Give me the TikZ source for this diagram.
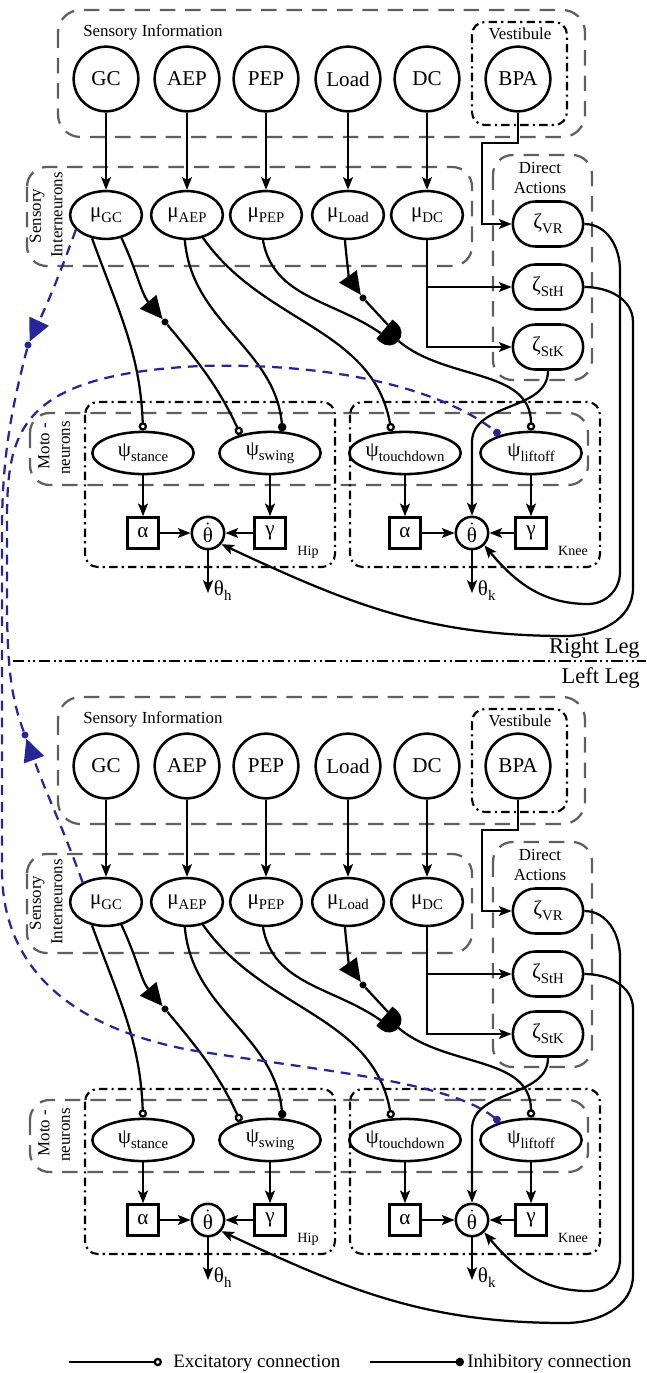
\documentclass[tikz,border=0pt]{standalone}
\usepackage{fontspec}
\setmainfont{Liberation Serif}
\usetikzlibrary{arrows.meta, positioning, shapes.geometric, shapes.misc}

\definecolor{linkblue}{RGB}{38,38,150}
\definecolor{boxgray}{RGB}{95,95,95}

\newcommand{\lsub}[1]{\raisebox{-0.5ex}{\fontsize{10.5}{11}\selectfont #1}}
\newcommand{\thetadot}{$\dot{\hbox{θ}}$}

\begin{document}
\begin{tikzpicture}[
  x=0.025cm, y=-0.025cm,
  >=Stealth,
  sense/.style={draw, circle, line width=1.8pt, minimum size=46pt,
    inner sep=0pt, font=\fontsize{15}{17}\selectfont},
  inter/.style={draw, ellipse, line width=1.8pt, minimum width=51pt,
    minimum height=34pt, inner sep=0pt, font=\fontsize{15}{17}\selectfont},
  direct/.style={draw, rounded rectangle, line width=1.8pt, minimum width=50pt,
    minimum height=32pt, inner sep=0pt, font=\fontsize{15}{17}\selectfont},
  moto/.style={draw, ellipse, line width=1.8pt, minimum width=72pt,
    minimum height=30pt, inner sep=0pt, font=\fontsize{15}{17}\selectfont},
  gain/.style={draw, rectangle, line width=1.8pt, minimum size=22pt,
    inner sep=0pt, font=\fontsize{15}{17}\selectfont},
  joint/.style={draw, circle, line width=1.8pt, minimum size=23pt,
    inner sep=0pt, font=\fontsize{15}{17}\selectfont},
  grpbox/.style={draw=boxgray, line width=1.6pt, dash pattern=on 11pt off 7pt,
    rounded corners=16pt},
  subbox/.style={draw=black, line width=1.5pt,
    dash pattern=on 6pt off 3pt on 1.5pt off 3pt, rounded corners=9pt},
  grplabel/.style={font=\fontsize{12}{14}\selectfont, inner sep=0pt},
  smalllabel/.style={font=\fontsize{10}{12}\selectfont, inner sep=0pt},
  arrow/.style={-{Stealth[length=9pt, width=7pt, inset=2pt]}, line width=1.6pt},
  exc/.style={-{Circle[length=6pt, fill=white]}, line width=1.6pt},
  inh/.style={-{Circle[length=6pt]}, line width=1.6pt},
  notarrow/.style={-{Triangle[length=16pt, width=15pt]}, line width=1.6pt},
  notdot/.style={circle, fill, inner sep=0pt, minimum size=5pt},
  bluelink/.style={draw=linkblue, line width=1.6pt, dash pattern=on 7pt off 5pt},
  bluenot/.style={-{Triangle[length=16pt, width=15pt]}},
  blueinh/.style={-{Circle[length=5.5pt]}},
  legsep/.style={line width=1.5pt,
    dash pattern=on 8pt off 2.5pt on 1.5pt off 2.5pt on 1.5pt off 2.5pt},
  leglabel/.style={font=\fontsize{16}{18}\selectfont, inner sep=0pt},
  legtext/.style={font=\fontsize{13.5}{15}\selectfont, inner sep=0pt}
]
\useasboundingbox (0,0) rectangle (646,1373);

\foreach \leg/\dy in {R/0, L/687}{
\begin{scope}[shift={(0,\dy)}, name prefix=\leg-]

% --- group boxes ---
\draw[grpbox] (58,10) rectangle (585,137);
\draw[subbox] (472,22) rectangle (567,125);
\draw[grpbox, rounded corners=14pt] (27,167) rectangle (472,266);
\draw[grpbox, rounded corners=14pt] (493,155) rectangle (592,380);
\draw[grpbox, rounded corners=14pt] (30,413) rectangle (588,485);
\draw[subbox] (85,402) rectangle (335,567);
\draw[subbox] (350,402) rectangle (600,567);

\node[grplabel, anchor=west] (sensLbl) at (83,32) {Sensory Information};
\node[grplabel] (vestLbl) at (520,34) {Vestibule};
\node[grplabel, rotate=90] (sensLbl2) at (37,216) {Sensory};
\node[grplabel, rotate=90] (interLbl) at (57,215) {Interneurons};
\node[grplabel, align=center] (dirLbl) at (540,178) {Direct\\Actions};
\node[grplabel, rotate=90] (motoLbl) at (44,446) {Moto -};
\node[grplabel, rotate=90] (neurLbl) at (66,448) {neurons};
\node[smalllabel] (hipLbl) at (308,552) {Hip};
\node[smalllabel] (kneeLbl) at (573,551) {Knee};

% --- sensory information ---
\node[sense] (GC)   at (106,79) {GC};
\node[sense] (AEP)  at (187,79) {AEP};
\node[sense] (PEP)  at (266,79) {PEP};
\node[sense] (Load) at (348,79) {Load};
\node[sense] (DC)   at (427,79) {DC};
\node[sense] (BPA)  at (518,79) {BPA};

% --- sensory interneurons ---
\node[inter] (muGC)   at (106,215) {μ\lsub{GC}};
\node[inter] (muAEP)  at (187,215) {μ\lsub{AEP}};
\node[inter] (muPEP)  at (266,215) {μ\lsub{PEP}};
\node[inter] (muLoad) at (348,215) {μ\lsub{Load}};
\node[inter] (muDC)   at (427,215) {μ\lsub{DC}};

% --- direct actions ---
\node[direct] (zVR)  at (548,224) {ζ\lsub{VR}};
\node[direct] (zStH) at (548,287) {ζ\lsub{StH}};
\node[direct] (zStK) at (548,347) {ζ\lsub{StK}};

% --- motoneurons ---
\node[moto] (psiSt) at (143,453) {ψ\lsub{stance}};
\node[moto] (psiSw) at (270,453) {ψ\lsub{swing}};
\node[moto] (psiTd) at (405,453) {ψ\lsub{touchdown}};
\node[moto] (psiLo) at (531,453) {ψ\lsub{liftoff}};

% --- hip and knee ---
\node[gain]  (hA)   at (143,533) {α};
\node[joint] (hThd) at (208,533) {\thetadot};
\node[gain]  (hG)   at (270,533) {γ};
\node[gain]  (kA)   at (405,533) {α};
\node[joint] (kThd) at (472,533) {\thetadot};
\node[gain]  (kG)   at (531,533) {γ};
\coordinate (hOut) at (208,593);
\coordinate (kOut) at (472,593);
\node[anchor=base west, font=\fontsize{15}{17}\selectfont, inner sep=0pt,
  xshift=4pt, yshift=-2pt] (hOutLbl) at (hOut) {θ\lsub{h}};
\node[anchor=base west, font=\fontsize{15}{17}\selectfont, inner sep=0pt,
  xshift=4pt, yshift=-2pt] (kOutLbl) at (kOut) {θ\lsub{k}};

% NOT markers and AND gate
\node[notdot] (notGC)   at (165,322) {};
\node[notdot] (notLoad) at (363,298) {};
\begin{scope}[shift={(389,333)}, rotate=-40]
  \fill (-6,-12.5) -- (0,-12.5) arc[start angle=-90, end angle=90, radius=12.5]
    -- (-6,12.5) -- cycle;
  \coordinate (andin1) at (-6,-5.5);
  \coordinate (andin2) at (-6,5.5);
  \coordinate (andout) at (12.5,0);
\end{scope}

% --- straight feeds ---
\draw[arrow] (GC)   -- (muGC);
\draw[arrow] (AEP)  -- (muAEP);
\draw[arrow] (PEP)  -- (muPEP);
\draw[arrow] (Load) -- (muLoad);
\draw[arrow] (DC)   -- (muDC);
\coordinate (vrBend) at (482,143);
\draw[arrow] (BPA.south) |- (vrBend) |- (zVR.west);
\draw[arrow] (muDC.south) |- (zStK.west);
\draw[arrow] (muDC.south |- zStH.west) -- (zStH.west);

% --- interneurons to motoneurons ---
\draw[exc] (muGC.-121) to[out=-70, in=92] (psiSt.north);
\draw[notarrow] (muGC.-56) to[out=-65, in=130] (notGC);
\draw[exc] (notGC) to[out=-50, in=115] (psiSw.148);
\draw[inh] (muAEP.-95) to[out=-85, in=95] (psiSw.60);
\draw[exc] (muAEP.-55) to[out=-55, in=100] (psiTd.122);
\draw[line width=1.6pt] (muPEP.-97) to[out=-80, in=145] (andin2);
\draw[notarrow] (muLoad.-97) to[out=-85, in=125] (notLoad);
\draw[line width=1.6pt] (notLoad) -- (andin1);
\draw[exc] (andout) to[out=-40, in=90] (psiLo.north);

% --- direct actions to joints ---
\draw[arrow] (zStK.south) to[out=-90, in=90] ([yshift=52pt]kThd.north)
  -- (kThd.north);
\draw[arrow] (zVR.east) to[out=0, in=90] (620,270) -- (620,572)
  to[out=-90, in=0] (588,604) to[out=180, in=-50] (kThd.-45);
\draw[arrow] (zStH.east) to[out=0, in=90] (633,322) -- (633,588)
  to[out=-90, in=0] (565,636) to[out=180, in=-25] (hThd.-40);

% --- motoneurons to joints ---
\draw[arrow] (psiSt) -- (hA);
\draw[arrow] (psiSw) -- (hG);
\draw[arrow] (hA) -- (hThd);
\draw[arrow] (hG) -- (hThd);
\draw[arrow] (hThd) -- (hOut);
\draw[arrow] (psiTd) -- (kA);
\draw[arrow] (psiLo) -- (kG);
\draw[arrow] (kA) -- (kThd);
\draw[arrow] (kG) -- (kThd);
\draw[arrow] (kThd) -- (kOut);

\end{scope}
}

% --- cross-leg links ---
\node[notdot, fill=linkblue] (bnotA) at (28,345) {};
\node[notdot, fill=linkblue] (bnotB) at (25,735) {};
\draw[bluelink, bluenot] (R-muGC.206) to[out=-110, in=65] (bnotA);
\draw[bluelink, blueinh] (bnotA) .. controls (14,400) and (2,450) .. (2,530)
  -- (2,870) .. controls (2,960) and (60,1025) .. (190,1050)
  .. controls (330,1072) and (450,1082) .. (L-psiLo.150);
\draw[bluelink, bluenot] (L-muGC.140) to[out=110, in=-70] (bnotB);
\draw[bluelink, blueinh] (bnotB) .. controls (12,700) and (7,670) .. (7,600)
  -- (7,520) .. controls (7,430) and (20,375) .. (200,366)
  .. controls (350,362) and (450,395) .. (R-psiLo.150);

% --- leg separator ---
\coordinate (sepW) at (13,661);
\coordinate (sepE) at (646,661);
\draw[legsep] (sepW) -- (sepE);
\node[leglabel, anchor=base east] (rightLbl) at (640,653) {Right Leg};
\node[leglabel, anchor=base east] (leftLbl) at (640,683) {Left Leg};

% --- legend ---
\coordinate (excA) at (69,1362);
\coordinate (excB) at (162,1362);
\draw[exc] (excA) -- (excB);
\node[legtext, anchor=base west] (excLbl) at (173,1367) {Excitatory connection};
\coordinate (inhA) at (370,1362);
\coordinate (inhB) at (464,1362);
\draw[inh] (inhA) -- (inhB);
\node[legtext, anchor=base west] (inhLbl) at (467,1367) {Inhibitory connection};

\end{tikzpicture}
\end{document}
